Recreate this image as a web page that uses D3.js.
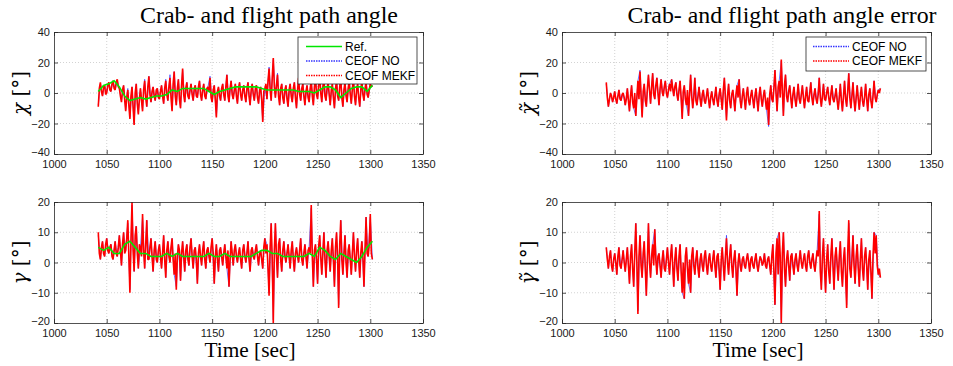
<!DOCTYPE html>
<html>
<head>
<meta charset="utf-8">
<script src="https://cdn.jsdelivr.net/npm/d3@7"></script>
<style>
  body { margin: 0; background: #fff; }
</style>
</head>
<body>
<script>
// MEKF output every 1 s, NO output every 2 s, reference every 5 s (1042 .. 1302)
var mekfTimes = d3.range(1042, 1303, 1);
var noTimes = d3.range(1042, 1303, 2);
var refTimes = d3.range(1042, 1303, 5);

// crab angle chi [deg]
var chiRef = [1, 5, 6, 8, 4, -2, -5, -4, -3, -4, -3, -2, -2, -1, 2, 1, 3, 3, 3, 3, 3, 1, -1, 1, 2, 3,
  4, 4, 4, 4, 4, 3, 2, 2, 2, 2, 2, 2, 1, 1, 1, 0, 2, 4, 4, 2, -3, 0, 3, 4, 4, 1, 5];
var chiNO = [-8, 6, -2, 5, 1, 7, 1, 8, 2, 8,
  3, -5, 5, -11, 3, -16, 4, -20, 6, -13,
  3, -11, 9, -9, 11, -6, 4, -5, 3, -4,
  5, -7, 9, -5, 12, -11, 14, -8, 9, -10,
  15, -6, 7, -4, 6, -5, 5, -3, 8, -5,
  6, -4, 4, 11, -6, 5, -15, 4, -5, 6,
  -5, 12, -6, 8, -4, 6, -7, 7, -5, 5,
  -6, 7, -8, 6, -5, 5, -7, 4, -18, 3,
  -4, 17, -5, 22, -3, 13, -8, 6, -7, 5,
  -9, 6, -6, 7, -10, 10, -5, 6, -8, 5,
  -6, 8, -8, 11, -4, 12, -6, 9, -5, 7,
  -8, 6, -10, 8, -5, 10, -9, 7, -6, 8,
  -7, 9, -8, 6, -9, 8, -5, 7, -3, 6, 4];
var chiMEKF = [-9, 3, 7, 1, -2, 4, 5, -1, 0, 5, 7, 2, 1, 6, 8, 3, 2, 7, 9, 4,
  3, -2, -6, 2, 5, -4, -12, -3, 2, -8, -17, -2, 4, -9, -21, 0, 6, -7, -14, -4,
  3, -5, -12, 2, 8, -3, -9, 4, 11, -1, -6, 1, 4, -2, -5, 2, 3, -3, -4, 1,
  5, -2, -7, 3, 8, -1, -5, 4, 10, -3, -12, 6, 14, -2, -8, 3, 9, -4, -10, 5,
  16, -1, -6, 3, 7, -2, -4, 2, 6, -1, -5, 3, 5, -2, -3, 4, 8, -1, -5, 2,
  6, -2, -4, 3, 4, 1, 10, -3, -6, 2, 5, -4, -16, 1, 4, -2, -5, 3, 6, -1,
  -5, 4, 12, -2, -6, 3, 8, -1, -4, 2, 6, -2, -7, 3, 7, -1, -5, 2, 5, -2,
  -6, 3, 7, -2, -8, 2, 6, -1, -5, 3, 5, -3, -7, 2, 4, -4, -19, 1, 3, 6,
  -4, 8, 16, 2, -5, 10, 23, 4, -3, 5, 12, -2, -8, 3, 6, -3, -7, 2, 5, -4,
  -9, 2, 6, -2, -6, 3, 7, -3, -10, 2, 10, -1, -5, 3, 6, -2, -8, 1, 5, -3,
  -6, 3, 8, -2, -8, 4, 10, -1, -4, 5, 12, 0, -6, 4, 9, -2, -5, 3, 7, -1,
  -8, 2, 6, -3, -10, 3, 8, -2, -5, 4, 10, -3, -9, 2, 7, -2, -6, 3, 8, -1,
  -7, 3, 9, -2, -8, 2, 6, -3, -9, 2, 8, -1, -5, 3, 7, -1, -3, 2, 6, 4, 5];

// flight path angle gamma [deg]
var gammaRef = [5, 4, 5, 3, 3, 6, 7, 5, 3, 3, 2, 2, 2, 3, 2, 3, 2, 2, 2, 2, 2, 3, 2, 2, 3, 2,
  2, 2, 2, 2, 3, 4, 4, 3, 3, 2, 2, 2, 2, 2, 3, 2, 5, 4, 2, 1, 3, 2, 1, 0, 2, 5, 7];
var gammaNO = [9, 1, 7, 2, 8, 3, 6, 1, 7, 2,
  9, -1, 10, 4, 13, -9, 19, -3, 12, -2,
  5, 15, -2, 14, 1, 8, -3, 7, 0, 6,
  -2, 9, -5, 7, 0, 8, -4, -8, 6, -6,
  7, -3, 6, -1, 8, -2, 5, -7, 6, -1,
  7, -2, 5, 0, 8, -7, 6, -3, 5, -1,
  6, -2, -8, 7, -1, 6, 0, 5, -2, 6,
  0, 7, -3, 5, 1, 6, -1, 4, -2, 8,
  6, -10, 13, -19, 13, -5, 8, -3, 7, 0,
  6, -2, 7, -3, 5, 0, 8, -1, 6, -2,
  5, 18, -8, 6, -7, 9, -4, 10, -5, 7,
  -3, 8, -8, 10, -14, 14, -4, 9, -5, 6,
  -4, 10, -3, 8, -5, 7, -8, 15, 2, 15, 1];
var gammaMEKF = [10, 3, 1, 5, 7, 3, 2, 6, 8, 4, 3, 5, 6, 2, 1, 4, 7, 3, 2, 5,
  9, 4, -1, 6, 10, 3, 4, 8, 14, 2, -10, 7, 20, 4, -3, 9, 12, 3, -2, 6,
  5, 2, 16, 4, -2, 6, 14, 1, 1, 5, 8, 2, -3, 4, 7, 1, 0, 4, 6, 2,
  -2, 3, 9, 1, -5, 4, 7, 2, 0, 5, 8, 1, -4, 3, -9, 2, 6, 4, -6, 3,
  7, 2, -3, 4, 6, 1, -1, 5, 8, 2, -2, 4, 5, 1, -7, 3, 6, 2, -1, 4,
  7, 1, -2, 4, 5, 2, 0, 5, 8, 3, -7, 2, 6, 1, -3, 4, 5, 2, -1, 3,
  6, 2, -2, 4, -8, 1, 7, 3, -1, 4, 6, 2, 0, 3, 5, 1, -2, 4, 6, 2,
  0, 3, 7, 1, -3, 4, 5, 2, 1, 4, 6, 2, -1, 3, 4, 1, -2, 5, 8, 3,
  6, -2, -11, 5, 13, 1, -20, 4, 13, 2, -5, 6, 8, 1, -3, 4, 7, 2, 0, 3,
  6, 2, -2, 4, 7, 1, -3, 3, 5, 2, 0, 4, 8, 1, -1, 3, 6, 2, -2, 4,
  5, 3, 19, 2, -8, 4, 6, 1, -7, 5, 9, 2, -4, 3, 10, 1, -5, 4, 7, 2,
  -3, 4, 8, 1, -8, 5, 10, 2, -15, 6, 14, 1, -4, 3, 9, 0, -5, 4, 6, 1,
  -4, 3, 10, 2, -3, 4, 8, 1, -5, 3, 7, 2, -8, 4, 15, 3, 2, 6, 16, 3, 1];

// crab angle error [deg]
var chiErrNO = [6, -9, 0, -6, 1, -7, 2, -5, 0, -8,
  3, -12, 5, -10, -15, 8, 15, -15, 6, -9,
  12, -7, 13, -4, 10, -8, 9, -2, 8, -3,
  6, 9, -2, 7, -5, 8, -16, 5, -8, -15,
  12, -10, 10, -8, 4, -9, 2, -7, 3, -10,
  1, -8, 4, -9, 3, -11, 10, -17, 6, -10,
  2, -12, 5, 9, -10, 3, -11, 4, -8, 2,
  -10, 3, -12, 4, -9, 2, -11, -22, 5, -6,
  15, -12, 8, 21, -15, 12, -6, 5, -10, 4,
  -9, 6, -7, 5, -10, 4, -6, 7, -8, 3,
  -7, 10, -9, 6, -5, 4, -8, 5, -6, 3,
  -11, 6, -12, 8, -9, 13, -10, 7, -12, 5,
  -11, 4, -9, 6, -12, 3, -10, 8, -6, 2, 3];
var chiErrMEKF = [7, -3, -9, -4, 0, -2, -6, -3, 1, -4, -7, -2, 2, -4, -5, -1, 0, -3, -8, -4,
  3, -5, -12, -2, 5, -6, -10, 0, -15, -3, 8, -4, 14, -2, -16, 1, 6, -5, -9, 3,
  12, 2, -7, 4, 13, -1, -4, 5, 10, 0, -8, 3, 9, 1, -2, 4, 8, 0, -3, 2,
  6, 1, 9, 3, -2, 4, 7, -1, -5, 2, 8, -3, -17, 1, 5, -4, -8, 2, -15, -1,
  12, -2, -10, -3, 10, -5, -8, -2, 4, -4, -9, -1, 2, -5, -7, -2, 3, -4, -10, -3,
  1, -4, -8, -2, 4, -5, -9, -1, 3, -4, -11, 2, 10, -3, -18, -2, 6, -5, -10, -1,
  2, -4, -12, -1, 5, -3, 9, -5, -10, -2, 3, -4, -11, -1, 4, -5, -8, -2, 2, -4,
  -10, -2, 3, -5, -12, -1, 4, -4, -9, -2, 2, -5, -11, -3, -21, -1, 5, -4, -6, 3,
  15, 0, -12, 4, 8, -3, 22, 2, -15, 5, 12, -2, -6, 1, 5, -3, -10, -1, 4, -4,
  -9, -2, 6, -4, -7, -1, 5, -3, -10, -2, 4, -5, -6, 0, 7, -3, -8, -1, 3, -4,
  -7, -1, 10, -3, -9, -2, 6, -4, -5, 0, 4, -3, -8, -1, 5, -4, -6, -2, 3, -5,
  -11, -3, 6, -5, -12, -2, 8, -4, -9, 1, 13, -3, -10, -2, 7, -5, -12, -3, 5, -4,
  -11, -2, 4, -5, -9, -3, 6, -4, -12, -1, 3, -5, -10, -2, 8, -3, -6, -1, 2, 0, 3];

// flight path angle error [deg]
var gammaErrNO = [5, -2, 4, -3, 3, -4, 5, -2, 4, -3,
  5, -7, 6, -8, 13, -16, 9, -5, 7, -11,
  13, -5, 6, 11, -4, 3, -5, 4, -3, 5,
  -4, 6, -8, 5, -6, 6, -10, -12, 5, -7,
  -10, 5, -4, 4, -5, 3, -3, 4, -4, 3,
  -3, 4, -5, 3, -9, 5, -6, 9, -4, 6,
  -5, 4, -11, 3, -3, 2, -2, 3, -3, 2,
  -2, 3, -3, 2, -1, 3, -2, 2, -4, 6,
  -14, 8, 10, -19, 10, -8, 4, -6, 3, -4,
  3, -3, 4, -2, 3, -3, 4, -2, 3, -3,
  4, 16, -9, 8, -10, 6, -7, 8, -9, 5,
  -6, 7, -8, 5, -14, 13, -5, 9, -7, 6,
  -8, 8, -6, 5, -9, 4, -12, 10, 9, -4, -5];
var gammaErrMEKF = [5, 1, -2, 2, 4, -1, -3, 1, 3, 0, -4, 2, 5, -1, -2, 1, 4, 0, -3, 1,
  5, -1, -7, 2, 6, -2, -8, 3, 13, 0, -17, 2, 9, -1, -5, 3, 7, -2, -11, 1,
  13, 0, -5, 2, 6, -1, 11, 1, -4, 2, 3, -1, -5, 1, 4, -2, -3, 1, 5, 0,
  -4, 2, 6, -1, -8, 1, 5, -2, -6, 2, 6, -3, -10, 0, -12, 2, 5, -2, -7, 1,
  -10, 2, 5, -1, -4, 1, 4, -2, -5, 1, 3, -1, -3, 2, 4, -1, -4, 1, 3, -1,
  -3, 1, 4, -1, -5, 2, 3, -2, -9, 1, 5, -1, -6, 2, 8, 0, -4, 2, 6, -1,
  -5, 1, 4, -2, -11, 0, 3, -1, -3, 1, 2, -1, -2, 1, 3, 0, -3, 1, 2, -1,
  -2, 1, 3, -1, -3, 0, 2, 1, -1, 0, 3, -1, -2, 1, 2, -1, -4, 2, 6, -3,
  -14, 3, 8, -4, 10, 2, -20, 3, 10, -2, -8, 1, 4, -1, -6, 2, 3, -1, -4, 1,
  3, -1, -3, 1, 4, 0, -2, 1, 3, -1, -3, 2, 4, 0, -2, 1, 3, -1, -3, 1,
  4, 2, 17, -3, -9, 2, 8, -2, -10, 1, 6, -3, -7, 2, 8, -1, -9, 2, 5, -1,
  -6, 2, 7, -3, -8, 1, 5, -4, -15, 3, 14, -2, -5, 1, 9, -1, -7, 2, 6, -2,
  -8, 1, 8, -2, -6, 2, 5, -1, -9, 1, 4, -3, -12, 2, 10, 3, 9, -1, -4, -2, -5];

var xTicks = [1000, 1050, 1100, 1150, 1200, 1250, 1300, 1350];
var chiTicks = [-40, -20, 0, 20, 40];
var gammaTicks = [-20, -10, 0, 10, 20];

var width = 953, height = 366;
var plotW = 369;

var svg = d3.select("body")
  .append("svg")
  .attr("width", width)
  .attr("height", height)
  .style("font-family", "'Liberation Sans', Arial, sans-serif");

var panels = [
  { id: "p1", left: 54, top: 32, h: 122, yTicks: chiTicks, ref: chiRef, no: chiNO, mekf: chiMEKF, label: "\u03C7" },
  { id: "p2", left: 54, top: 202, h: 121, yTicks: gammaTicks, ref: gammaRef, no: gammaNO, mekf: gammaMEKF, label: "\u03B3" },
  { id: "p3", left: 562, top: 32, h: 122, yTicks: chiTicks, no: chiErrNO, mekf: chiErrMEKF, label: "\u03C7\u0303" },
  { id: "p4", left: 562, top: 202, h: 121, yTicks: gammaTicks, no: gammaErrNO, mekf: gammaErrMEKF, label: "\u03B3\u0303" }
];

panels.forEach(function(p) {
  var x = d3.scaleLinear().domain([1000, 1350]).range([p.left, p.left + plotW]);
  var y = d3.scaleLinear().domain(d3.extent(p.yTicks)).range([p.top + p.h, p.top]);
  var g = svg.append("g");

  g.append("clipPath").attr("id", "clip-" + p.id)
    .append("rect")
    .attr("x", p.left).attr("y", p.top)
    .attr("width", plotW).attr("height", p.h);

  // dotted grid
  g.selectAll(".gx").data(xTicks.slice(1, -1)).enter().append("line")
    .attr("x1", function(d) { return x(d); }).attr("x2", function(d) { return x(d); })
    .attr("y1", p.top).attr("y2", p.top + p.h)
    .style("stroke", "#c8c8c8").style("stroke-dasharray", "1,2").style("stroke-width", 0.8);
  g.selectAll(".gy").data(p.yTicks.slice(1, -1)).enter().append("line")
    .attr("x1", p.left).attr("x2", p.left + plotW)
    .attr("y1", function(d) { return y(d); }).attr("y2", function(d) { return y(d); })
    .style("stroke", "#c8c8c8").style("stroke-dasharray", "1,2").style("stroke-width", 0.8);

  var line = d3.line()
    .x(function(d) { return x(d[0]); })
    .y(function(d) { return y(d[1]); });

  var plot = g.append("g").attr("clip-path", "url(#clip-" + p.id + ")");

  plot.append("path")
    .attr("d", line(d3.zip(noTimes, p.no)))
    .style("fill", "none").style("stroke", "#3535ff").style("stroke-width", 0.7);
  plot.append("path")
    .attr("d", line(d3.zip(mekfTimes, p.mekf)))
    .style("fill", "none").style("stroke", "#ff0000").style("stroke-width", 1.6)
    .style("stroke-linejoin", "bevel");
  if (p.ref) {
    plot.append("path")
      .attr("d", line(d3.zip(refTimes, p.ref)))
      .style("fill", "none").style("stroke", "#00e600").style("stroke-width", 1.6);
  }

  // axes, ticks pointing inward like matlab
  var ax = g.append("g").attr("transform", "translate(0," + (p.top + p.h) + ")")
    .call(d3.axisBottom(x).tickValues(xTicks).tickFormat(d3.format("d")).tickSizeInner(-4).tickSizeOuter(0).tickPadding(6));
  var ay = g.append("g").attr("transform", "translate(" + p.left + ",0)")
    .call(d3.axisLeft(y).tickValues(p.yTicks).tickSizeInner(-4).tickSizeOuter(0).tickPadding(4));
  var axT = g.append("g").attr("transform", "translate(0," + p.top + ")")
    .call(d3.axisTop(x).tickValues(xTicks).tickFormat("").tickSizeInner(-4).tickSizeOuter(0));
  var ayR = g.append("g").attr("transform", "translate(" + (p.left + plotW) + ",0)")
    .call(d3.axisRight(y).tickValues(p.yTicks).tickFormat("").tickSizeInner(-4).tickSizeOuter(0));
  [ax, ay, axT, ayR].forEach(function(a) {
    a.selectAll("path, line").style("stroke", "#262626").style("stroke-width", 0.8);
    a.selectAll("text").style("font-size", "11px").style("fill", "#1a1a1a").style("font-family", "'Liberation Sans', Arial, sans-serif");
  });
  // lowest y label sits just above the x labels in the corner
  ay.selectAll(".tick text").filter(function(d) { return d === p.yTicks[0]; }).attr("dy", "0.1em");

  // y label
  var cy = p.top + p.h / 2;
  var lab = svg.append("text")
    .attr("transform", "translate(" + (p.left - 27) + "," + cy + ") rotate(-90)")
    .attr("text-anchor", "middle")
    .style("font-family", "'DejaVu Serif', 'Liberation Serif', serif")
    .style("font-size", "20px");
  lab.append("tspan").style("font-style", "italic").text(p.label);
  lab.append("tspan").text(" [\u00B0]");
});

// titles and x labels
svg.append("text").attr("x", 269).attr("y", 23).attr("text-anchor", "middle")
  .style("font-family", "'Liberation Serif', serif").style("font-size", "23px")
  .attr("textLength", 258).attr("lengthAdjust", "spacingAndGlyphs")
  .text("Crab- and flight path angle");
svg.append("text").attr("x", 782).attr("y", 23).attr("text-anchor", "middle")
  .style("font-family", "'Liberation Serif', serif").style("font-size", "23px")
  .attr("textLength", 309).attr("lengthAdjust", "spacingAndGlyphs")
  .text("Crab- and flight path angle error");
[250, 758].forEach(function(cx) {
  svg.append("text").attr("x", cx).attr("y", 357).attr("text-anchor", "middle")
    .style("font-family", "'Liberation Serif', serif").style("font-size", "20px")
    .attr("textLength", 91).attr("lengthAdjust", "spacingAndGlyphs")
    .text("Time [sec]");
});

// legends
var legendLeft = [
  { name: "Ref.", color: "#00e600", dash: null },
  { name: "CEOF NO", color: "#3535ff", dash: "1.5,1" },
  { name: "CEOF MEKF", color: "#ff0000", dash: "1.5,1" }
];
var legendRight = legendLeft.slice(1);

function drawLegend(items, bx, by, bw, bh, lx) {
  var lg = svg.append("g");
  lg.append("rect").attr("x", bx).attr("y", by).attr("width", bw).attr("height", bh)
    .style("fill", "#fff").style("stroke", "#262626").style("stroke-width", 0.8);
  items.forEach(function(it, i) {
    var yy = by + 9.5 + i * 14.5;
    lg.append("line").attr("x1", lx).attr("x2", lx + 36).attr("y1", yy).attr("y2", yy)
      .style("stroke", it.color).style("stroke-width", 1.5)
      .style("stroke-dasharray", it.dash);
    lg.append("text").attr("x", lx + 39).attr("y", yy + 4.3)
      .style("font-size", "12px").style("fill", "#000").text(it.name);
  });
}
drawLegend(legendLeft, 298, 37, 119, 47, 306);
drawLegend(legendRight, 806, 37, 120, 34, 813);
</script>
</body>
</html>
